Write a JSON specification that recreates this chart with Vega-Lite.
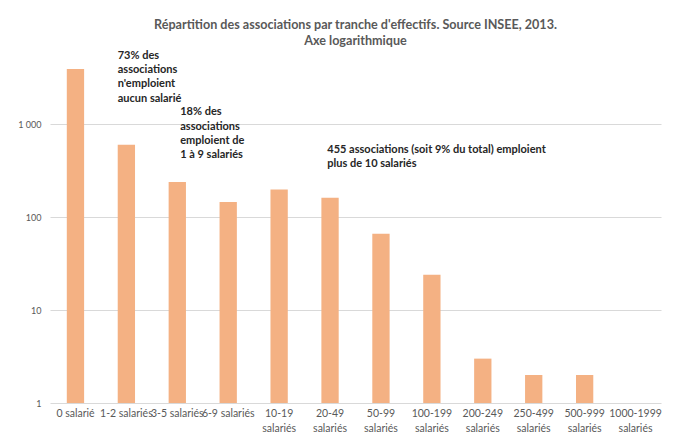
{
  "$schema": "https://vega.github.io/schema/vega-lite/v6.json",
  "width": 611,
  "height": 372,
  "autosize": {"type": "none"},
  "padding": {"left": 50, "top": 31, "right": 17, "bottom": 36},
  "background": "white",
  "config": {
    "view": {"stroke": null},
    "font": "Lato, sans-serif"
  },
  "title": {
    "text": ["Répartition des associations par tranche d'effectifs. Source INSEE, 2013.", "Axe logarithmique"],
    "anchor": "middle",
    "fontSize": 12.6,
    "fontWeight": "bold",
    "color": "#595959",
    "lineHeight": 16,
    "offset": -22,
    "baseline": "top",
    "dy": -5
  },
  "layer": [
    {
      "data": {
        "values": [
          {"tranche": "0 salarié", "associations": 3900},
          {"tranche": "1-2 salariés", "associations": 600},
          {"tranche": "3-5 salariés", "associations": 238},
          {"tranche": "6-9 salariés", "associations": 145},
          {"tranche": "10-19 salariés", "associations": 197},
          {"tranche": "20-49 salariés", "associations": 161},
          {"tranche": "50-99 salariés", "associations": 66},
          {"tranche": "100-199 salariés", "associations": 24},
          {"tranche": "200-249 salariés", "associations": 3},
          {"tranche": "250-499 salariés", "associations": 2},
          {"tranche": "500-999 salariés", "associations": 2},
          {"tranche": "1000-1999 salariés", "associations": 1}
        ]
      },
      "mark": {"type": "bar", "color": "#F4B183"},
      "encoding": {
        "x": {
          "field": "tranche",
          "type": "nominal",
          "sort": null,
          "scale": {"paddingInner": 0.66, "paddingOuter": 0.33},
          "axis": {
            "title": null,
            "labelAngle": 0,
            "domain": false,
            "ticks": false,
            "labelColor": "#595959",
            "labelFontSize": 10.5,
            "labelLineHeight": 15,
            "labelPadding": 5,
            "labelOverlap": false,
            "labelExpr": "length(datum.label) > 12 ? split(datum.label, ' ') : datum.label"
          }
        },
        "y": {
          "field": "associations",
          "type": "quantitative",
          "scale": {"type": "log", "domain": [1, 10000], "nice": false},
          "axis": {
            "title": null,
            "values": [1, 10, 100, 1000],
            "domain": false,
            "ticks": false,
            "labelColor": "#595959",
            "labelFontSize": 9,
            "labelPadding": 9,
            "gridColor": "#d9d9d9",
            "gridWidth": 1,
            "labelExpr": "datum.value == 1000 ? '1 000' : datum.label"
          }
        },
        "y2": {"datum": 1}
      }
    },
    {
      "data": {"values": [{"tranche": "1-2 salariés", "y": 6300, "texte": "73% des\nassociations\nn'emploient\naucun salarié"}]},
      "mark": {"type": "text", "align": "left", "baseline": "top", "fontWeight": "bold", "fontSize": 11, "lineHeight": 14.4, "lineBreak": "\n", "color": "#262626"},
      "encoding": {
        "x": {"field": "tranche", "type": "nominal", "bandPosition": 0, "sort": null},
        "y": {"field": "y", "type": "quantitative"},
        "text": {"field": "texte"}
      }
    },
    {
      "data": {"values": [{"tranche": "3-5 salariés", "y": 1553, "texte": "18% des\nassociations\nemploient de\n1 à 9 salariés"}]},
      "mark": {"type": "text", "align": "left", "baseline": "top", "fontWeight": "bold", "fontSize": 11, "lineHeight": 14.4, "lineBreak": "\n", "color": "#262626"},
      "encoding": {
        "x": {"field": "tranche", "type": "nominal", "bandPosition": 0.67, "sort": null},
        "y": {"field": "y", "type": "quantitative"},
        "text": {"field": "texte"}
      }
    },
    {
      "data": {"values": [{"tranche": "20-49 salariés", "y": 614, "texte": "455 associations (soit 9% du total) emploient\nplus de 10 salariés"}]},
      "mark": {"type": "text", "align": "left", "baseline": "top", "fontWeight": "bold", "fontSize": 11, "lineHeight": 14.4, "lineBreak": "\n", "color": "#262626"},
      "encoding": {
        "x": {"field": "tranche", "type": "nominal", "bandPosition": 0.34, "sort": null},
        "y": {"field": "y", "type": "quantitative"},
        "text": {"field": "texte"}
      }
    }
  ]
}
